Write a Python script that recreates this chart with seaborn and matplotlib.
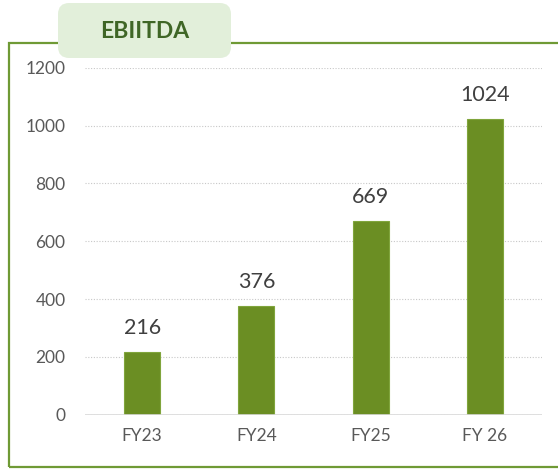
import matplotlib
matplotlib.use("Agg")
import matplotlib.pyplot as plt
import seaborn as sns
import pandas as pd
from matplotlib.patches import FancyBboxPatch, Rectangle

categories = ["FY23", "FY24", "FY25", "FY 26"]
values = [216, 376, 669, 1024]
yticks = [0, 200, 400, 600, 800, 1000, 1200]
title = "EBIITDA"

sns.set_style("white")
plt.rcParams['font.family'] = ['Lato', 'DejaVu Sans']

df = pd.DataFrame({"cat": categories, "val": values})

W, H = 558, 469
fig = plt.figure(figsize=(W / 100, H / 100), dpi=100)
ax = fig.add_axes([85 / W, 1 - 414.5 / H, (542 - 85) / W, (414.5 - 68) / H])

sns.barplot(data=df, x="cat", y="val", color="#6B8E23", width=0.314,
            saturation=1, ax=ax, zorder=3)
for p in ax.patches:
    p.set_edgecolor("#80a53c")
    p.set_linewidth(0.8)

ax.set_ylim(0, 1200)
ax.set_xlim(-0.5, 3.5)
ax.set_yticks(yticks)
ax.set_yticklabels([str(t) for t in yticks])
ax.yaxis.grid(True, linestyle=(0, (1, 1.5)), color="#c8c8c8", linewidth=0.8, zorder=0)
ax.axhline(0, color="#d9d9d9", linewidth=1.2, zorder=4)
for s in ax.spines.values():
    s.set_visible(False)
ax.set_xlabel("")
ax.set_ylabel("")
ax.tick_params(axis="y", length=0, pad=14, labelsize=12.5, labelcolor="#595959")
ax.tick_params(axis="x", length=0, pad=10, labelsize=12.5, labelcolor="#595959")

for i, v in enumerate(values):
    ax.annotate(str(v), (i, v), xytext=(0, 10), textcoords="offset points",
                ha="center", va="bottom", fontsize=15.5, color="#404040")

# outer frame
frame = Rectangle((9 / W, 1 - 467 / H), (W + 5 - 9) / W, (467 - 43) / H,
                  transform=fig.transFigure, fill=False, edgecolor="#6f9a35",
                  linewidth=1.6, clip_on=False)
fig.add_artist(frame)

# title box
box = FancyBboxPatch((58 / W, 1 - 58 / H), (231 - 58) / W, (58 - 3) / H,
                     boxstyle="round,pad=0,rounding_size=0.02",
                     transform=fig.transFigure, facecolor="#e2efda",
                     edgecolor="none", mutation_aspect=W / H)
fig.add_artist(box)
fig.text(145 / W, 1 - 32 / H, title, ha="center", va="center",
         fontsize=16.5, fontweight="bold", color="#3f6626")

fig.savefig("out.png", dpi=100)
